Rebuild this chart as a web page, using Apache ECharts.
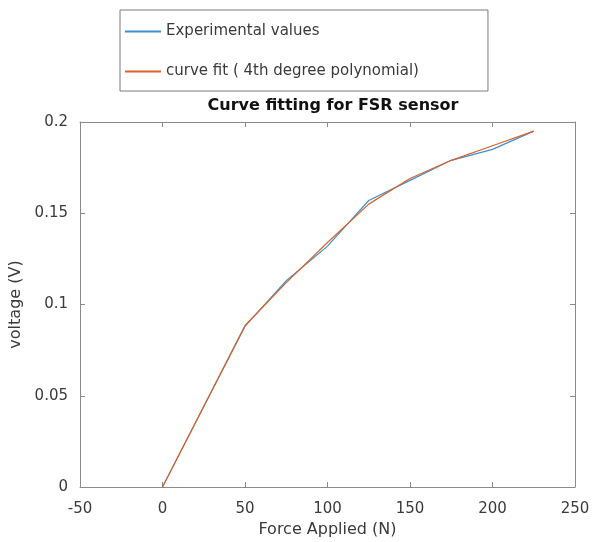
<!DOCTYPE html>
<html>
<head>
<meta charset="utf-8">
<script src="https://cdn.jsdelivr.net/npm/echarts@6/dist/echarts.min.js"></script>
<style>html,body{margin:0;padding:0;background:#fff;}#c{width:594px;height:542px;}</style>
</head>
<body>
<div id="c"></div>
<script>
const forceN = [0, 50, 75, 100, 125, 150, 175, 200, 225];
const experimentalV = [0, 0.088, 0.113, 0.132, 0.157, 0.168, 0.179, 0.185, 0.195];
const fitV = [0, 0.0885, 0.112, 0.134, 0.155, 0.169, 0.179, 0.187, 0.195];
const xTicks = { min: -50, max: 250, step: 50 };
const yTicks = { min: 0, max: 0.2, step: 0.05 };

const font = 'DejaVu Sans, Liberation Sans, Arial, sans-serif';
const axisCol = '#8a8a8a';
const textCol = '#3a3a3a';

const chart = echarts.init(document.getElementById('c'), null, { renderer: 'canvas' });
const baseAxis = {
  axisLine: { show: true, onZero: false, lineStyle: { color: axisCol, width: 1 } },
  axisTick: { show: true, inside: true, length: 5, lineStyle: { color: axisCol } },
  splitLine: { show: false },
  axisLabel: { color: textCol, fontFamily: font, fontSize: 15 }
};
chart.setOption({
  animation: false,
  backgroundColor: '#fff',
  title: {
    text: 'Curve fitting for FSR sensor',
    left: 328, top: 93, textAlign: 'center',
    textStyle: { fontFamily: font, fontSize: 16, fontWeight: 'bold', color: '#111' }
  },
  legend: {
    orient: 'vertical', left: 120, top: 10,
    padding: [14, 69, 12, 5],
    itemGap: 25, itemWidth: 36, itemHeight: 2, icon: 'rect',
    borderColor: '#7a7a7a', borderWidth: 1,
    textStyle: { fontFamily: font, fontSize: 15, color: textCol },
    data: ['Experimental values', 'curve fit ( 4th degree polynomial)']
  },
  grid: { left: 80, right: 19, top: 122, bottom: 55, containLabel: false, outerBoundsMode: 'none' },
  xAxis: [
    Object.assign({}, baseAxis, {
      type: 'value', min: xTicks.min, max: xTicks.max, interval: xTicks.step,
      name: 'Force Applied (N)', nameLocation: 'middle', nameGap: 35,
      nameTextStyle: { fontFamily: font, fontSize: 16, color: textCol },
      axisLabel: Object.assign({}, baseAxis.axisLabel, { margin: 15 })
    }),
    Object.assign({}, baseAxis, {
      type: 'value', position: 'top', min: xTicks.min, max: xTicks.max, interval: xTicks.step,
      axisLabel: { show: false }
    })
  ],
  yAxis: [
    Object.assign({}, baseAxis, {
      type: 'value', min: yTicks.min, max: yTicks.max, interval: yTicks.step,
      name: 'voltage (V)', nameLocation: 'middle', nameGap: 54,
      nameTextStyle: { fontFamily: font, fontSize: 16, color: textCol },
      axisLabel: Object.assign({}, baseAxis.axisLabel, { margin: 12 })
    }),
    Object.assign({}, baseAxis, {
      type: 'value', position: 'right', min: yTicks.min, max: yTicks.max, interval: yTicks.step,
      axisLabel: { show: false }
    })
  ],
  series: [
    {
      name: 'Experimental values', type: 'line', xAxisIndex: 0, yAxisIndex: 0,
      data: forceN.map((x, i) => [x, experimentalV[i]]),
      showSymbol: false, symbol: 'none',
      color: '#3d8fd1',
      lineStyle: { color: '#3d8fd1', width: 1.2 }
    },
    {
      name: 'curve fit ( 4th degree polynomial)', type: 'line', xAxisIndex: 0, yAxisIndex: 0,
      data: forceN.map((x, i) => [x, fitV[i]]),
      showSymbol: false, symbol: 'none',
      color: '#d9622b',
      lineStyle: { color: '#d9622b', width: 1.2 }
    }
  ]
});
</script>
</body>
</html>
